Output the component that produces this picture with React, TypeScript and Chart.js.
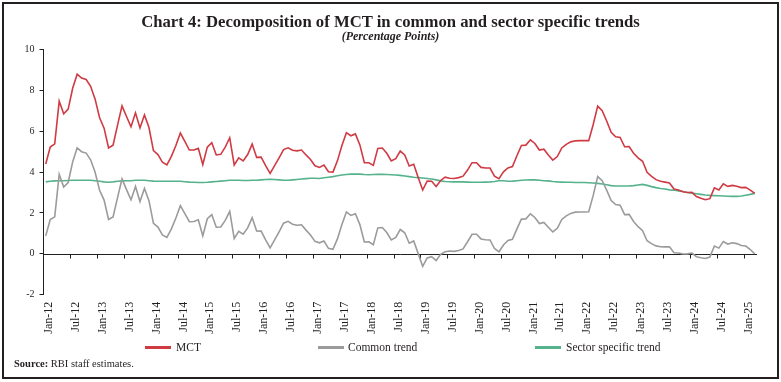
import React, { useEffect, useRef } from "react";
import { Chart, registerables } from "chart.js";

Chart.register(...registerables);

const monthNames = ["Jan", "Feb", "Mar", "Apr", "May", "Jun", "Jul", "Aug", "Sep", "Oct", "Nov", "Dec"];
const startYear = 2012;
const monthCount = 159; // Jan-12 .. Mar-25
const categories: string[] = Array.from({ length: monthCount }, (_, i) =>
  `${monthNames[i % 12]}-${String((startYear + Math.floor(i / 12)) % 100).padStart(2, "0")}`
);

const mct = [
  4.4, 5.23, 5.38, 7.47, 6.85, 7.08, 8.1, 8.79, 8.6, 8.53, 8.2, 7.57,
  6.66, 6.15, 5.18, 5.32, 6.3, 7.24, 6.72, 6.22, 6.9, 6.16, 6.8, 6.18,
  5.05, 4.86, 4.48, 4.35, 4.77, 5.3, 5.91, 5.5, 5.08, 5.08, 5.16, 4.37,
  5.22, 5.44, 4.84, 4.87, 5.22, 5.68, 4.35, 4.7, 4.55, 4.86, 5.37, 4.72,
  4.73, 4.32, 3.94, 4.32, 4.7, 5.1, 5.19, 5.07, 5.04, 5.08, 4.84, 4.62,
  4.31, 4.23, 4.35, 4.02, 4.0, 4.55, 5.3, 5.93, 5.78, 5.87, 5.33, 4.46,
  4.46, 4.33, 5.16, 5.18, 4.92, 4.55, 4.66, 5.03, 4.84, 4.3, 4.38, 3.74,
  3.12, 3.56, 3.55, 3.3, 3.59, 3.75, 3.7, 3.69, 3.73, 3.8, 4.1, 4.46,
  4.46, 4.23, 4.2, 4.2, 3.8, 3.68, 4.01, 4.2, 4.27, 4.8, 5.3, 5.32,
  5.58, 5.4, 5.08, 5.12, 4.84, 4.59, 4.76, 5.18, 5.36, 5.48, 5.53, 5.54,
  5.54, 5.54, 6.33, 7.23, 7.0, 6.5, 5.95, 5.73, 5.7, 5.24, 5.25, 4.92,
  4.7, 4.53, 3.99, 3.79, 3.63, 3.55, 3.51, 3.47, 3.17, 3.12, 3.04, 3.0,
  3.01, 2.8, 2.72, 2.65, 2.7, 3.23, 3.12, 3.43, 3.3, 3.35, 3.31, 3.24,
  3.25, 3.12, 2.96,
];

const commonTrend = [
  0.88, 1.68, 1.81, 3.89, 3.27, 3.49, 4.5, 5.19, 5.0, 4.93, 4.6, 3.99,
  3.11, 2.63, 1.68, 1.8, 2.75, 3.67, 3.14, 2.64, 3.3, 2.56, 3.2, 2.6,
  1.49, 1.31, 0.93, 0.8, 1.22, 1.75, 2.36, 1.97, 1.57, 1.58, 1.67, 0.88,
  1.72, 1.92, 1.3, 1.31, 1.64, 2.08, 0.75, 1.1, 0.96, 1.27, 1.77, 1.12,
  1.11, 0.68, 0.29, 0.68, 1.08, 1.5, 1.59, 1.45, 1.4, 1.42, 1.16, 0.92,
  0.61, 0.54, 0.63, 0.27, 0.22, 0.73, 1.44, 2.05, 1.88, 1.96, 1.43, 0.58,
  0.59, 0.45, 1.27, 1.29, 1.04, 0.68, 0.8, 1.19, 1.03, 0.52, 0.63, 0.01,
  -0.61, -0.2, -0.14, -0.33, -0.02, 0.1, 0.14, 0.12, 0.16, 0.24, 0.59, 0.96,
  0.96, 0.73, 0.69, 0.68, 0.26, 0.1, 0.43, 0.65, 0.71, 1.22, 1.7, 1.71,
  1.96, 1.78, 1.48, 1.54, 1.3, 1.07, 1.25, 1.68, 1.86, 1.98, 2.04, 2.05,
  2.05, 2.06, 2.86, 3.78, 3.58, 3.12, 2.61, 2.41, 2.38, 1.92, 1.93, 1.58,
  1.33, 1.13, 0.64, 0.5, 0.39, 0.35, 0.34, 0.34, 0.05, 0.04, -0.01, 0.0,
  0.04, -0.14, -0.19, -0.23, -0.16, 0.38, 0.28, 0.6, 0.48, 0.54, 0.5, 0.41,
  0.38, 0.21, 0.0,
];

const sectorTrend = [
  3.52, 3.55, 3.57, 3.58, 3.58, 3.59, 3.6, 3.6, 3.6, 3.6, 3.6, 3.58,
  3.55, 3.52, 3.5, 3.52, 3.55, 3.57, 3.58, 3.58, 3.6, 3.6, 3.6, 3.58,
  3.56, 3.55, 3.55, 3.55, 3.55, 3.55, 3.55, 3.53, 3.51, 3.5, 3.49, 3.49,
  3.5, 3.52, 3.54, 3.56, 3.58, 3.6, 3.6, 3.6, 3.59, 3.59, 3.6, 3.6,
  3.62, 3.64, 3.65, 3.64, 3.62, 3.6, 3.6, 3.62, 3.64, 3.66, 3.68, 3.7,
  3.7, 3.69, 3.72, 3.75, 3.78, 3.82, 3.86, 3.88, 3.9, 3.91, 3.9, 3.88,
  3.87, 3.88, 3.89, 3.89, 3.88, 3.87, 3.86, 3.84, 3.81, 3.78, 3.75, 3.73,
  3.71, 3.69, 3.66, 3.62, 3.57, 3.54, 3.53, 3.52, 3.52, 3.52, 3.51, 3.5,
  3.5, 3.5, 3.51, 3.52, 3.54, 3.58, 3.58, 3.55, 3.56, 3.58, 3.6, 3.61,
  3.62, 3.62, 3.6, 3.58, 3.57, 3.54, 3.52, 3.51, 3.5, 3.5, 3.49, 3.49,
  3.49, 3.48, 3.47, 3.45, 3.42, 3.38, 3.34, 3.32, 3.32, 3.32, 3.32, 3.34,
  3.37, 3.4, 3.35, 3.29, 3.24, 3.2, 3.17, 3.13, 3.12, 3.08, 3.05, 3.0,
  2.97, 2.94, 2.91, 2.88, 2.86, 2.85, 2.84, 2.83, 2.82, 2.81, 2.81, 2.83,
  2.87, 2.91, 2.96,
];

const seriesNames = ["MCT", "Common trend", "Sector specific trend"];
const seriesColors = ["#cf3a43", "#9b9b9b", "#55b28d"];
const yTicks = { min: -2, max: 10, step: 2 };
const labelEvery = 6;

const INK = "#231f20";
const FONT = "'Liberation Serif', 'DejaVu Serif', serif";

const zeroAxisPlugin = {
  id: "zeroAxis",
  beforeDatasetsDraw(chart: any) {
    const { ctx, chartArea, scales } = chart;
    const y0 = Math.round(scales.y.getPixelForValue(0)) + 0.5;
    const x = scales.x;
    const step = (chartArea.right - chartArea.left) / categories.length;
    ctx.save();
    ctx.strokeStyle = INK;
    ctx.lineWidth = 1;
    ctx.beginPath();
    ctx.moveTo(chartArea.left, y0);
    ctx.lineTo(chartArea.right, y0);
    for (let i = labelEvery; i < categories.length; i += labelEvery) {
      const px = Math.round(x.getPixelForValue(i) - step / 2) + 0.5;
      ctx.moveTo(px, y0);
      ctx.lineTo(px, y0 + 4);
    }
    ctx.stroke();
    ctx.restore();
  },
};

function ChartCanvas() {
  const ref = useRef<HTMLCanvasElement | null>(null);
  useEffect(() => {
    if (!ref.current) return;
    const chart = new Chart(ref.current, {
      type: "line",
      data: {
        labels: categories,
        datasets: [mct, commonTrend, sectorTrend].map((d, k) => ({
          label: seriesNames[k],
          data: d,
          borderColor: seriesColors[k],
          backgroundColor: seriesColors[k],
          borderWidth: 1.6,
          pointRadius: 0,
          tension: 0,
          fill: false,
        })),
      },
      options: {
        animation: false,
        responsive: false,
        devicePixelRatio: 1,
        events: [],
        layout: { padding: { top: 49.5, right: 24, left: 0, bottom: 37.3 } },
        plugins: { legend: { display: false }, tooltip: { enabled: false }, title: { display: false } },
        scales: {
          x: {
            type: "category",
            offset: true,
            grid: { display: false, drawTicks: false },
            border: { display: false },
            afterFit: (s: any) => { s.height = 50; },
            ticks: {
              autoSkip: false,
              maxRotation: 90,
              minRotation: 90,
              padding: 7,
              labelOffset: 3,
              color: INK,
              font: { family: FONT, size: 12 },
              callback: (_v: any, i: number) => (i % labelEvery === 0 ? categories[i] : ""),
            },
          },
          y: {
            min: yTicks.min,
            max: yTicks.max,
            afterFit: (s: any) => { s.width = 43.5; },
            grid: { display: true, drawOnChartArea: false, drawTicks: true, tickLength: 4, color: INK },
            border: { display: true, color: INK, width: 1 },
            ticks: {
              stepSize: yTicks.step,
              padding: 5,
              color: INK,
              font: { family: FONT, size: 10 },
            },
          },
        },
      },
      plugins: [zeroAxisPlugin],
    });
    return () => chart.destroy();
  }, []);
  return (
    <canvas
      ref={ref}
      width={781}
      height={382}
      style={{ position: "absolute", left: 0, top: 0, width: 781, height: 382 }}
    />
  );
}

const legendPos = [
  { line: 145, text: 176 },
  { line: 318, text: 348 },
  { line: 535, text: 566 },
];

export default function App() {
  return (
    <div
      style={{
        position: "fixed",
        left: 0,
        top: 0,
        width: 781,
        height: 382,
        background: "#fff",
        overflow: "hidden",
        fontFamily: FONT,
        color: INK,
      }}
    >
      <ChartCanvas />
      <div
        style={{
          position: "absolute",
          left: 2,
          top: 2,
          width: 777,
          height: 377,
          border: "2.5px solid #231f20",
          boxSizing: "border-box",
          pointerEvents: "none",
        }}
      />
      <div
        style={{
          position: "absolute",
          left: 0,
          width: 781,
          top: 12,
          textAlign: "center",
          fontWeight: "bold",
          fontSize: 16.7,
          lineHeight: "20px",
        }}
      >
        Chart 4: Decomposition of MCT in common and sector specific trends
      </div>
      <div
        style={{
          position: "absolute",
          left: 0,
          width: 781,
          top: 29,
          textAlign: "center",
          fontWeight: "bold",
          fontStyle: "italic",
          fontSize: 12,
          lineHeight: "14px",
        }}
      >
        (Percentage Points)
      </div>
      {seriesNames.map((n, k) => (
        <React.Fragment key={n}>
          <div
            style={{
              position: "absolute",
              left: legendPos[k].line,
              top: 346,
              width: 26,
              height: 3,
              background: seriesColors[k],
            }}
          />
          <div
            style={{
              position: "absolute",
              left: legendPos[k].text,
              top: 339,
              fontSize: 11.5,
              lineHeight: "16px",
              whiteSpace: "nowrap",
            }}
          >
            {n}
          </div>
        </React.Fragment>
      ))}
      <div
        style={{
          position: "absolute",
          left: 14,
          top: 357,
          fontSize: 10.5,
          lineHeight: "14px",
          whiteSpace: "nowrap",
        }}
      >
        <b>Source:</b> RBI staff estimates.
      </div>
    </div>
  );
}
